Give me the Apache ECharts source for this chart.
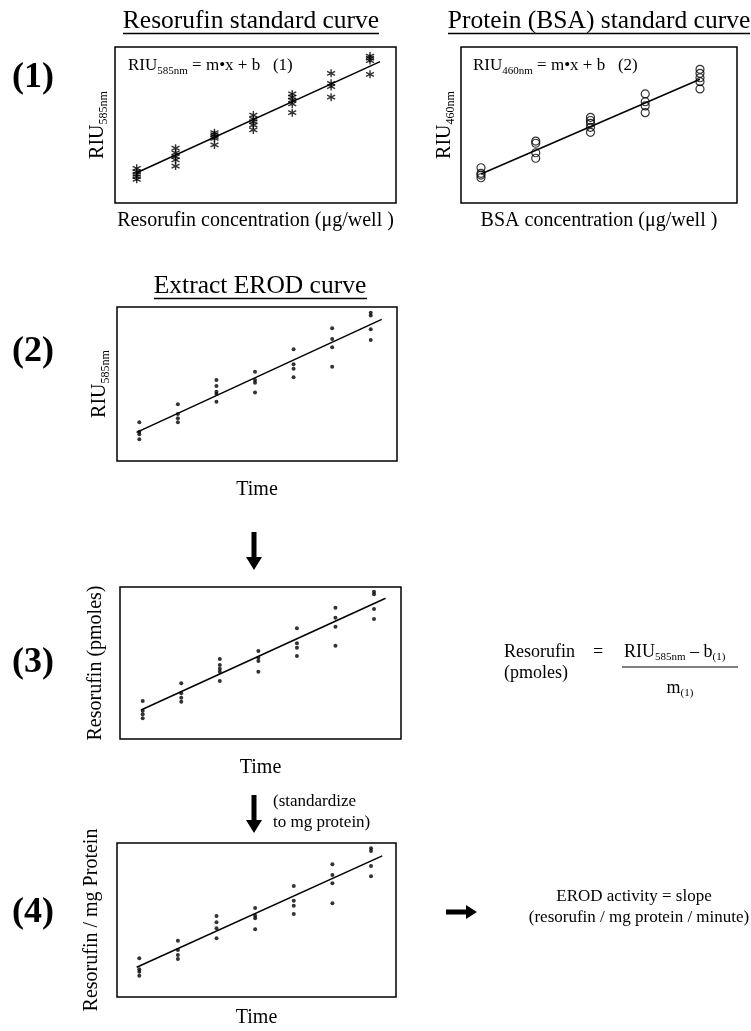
<!DOCTYPE html>
<html>
<head>
<meta charset="utf-8">
<script src="https://cdn.jsdelivr.net/npm/echarts@6/dist/echarts.min.js"></script>
<style>
  html, body { margin: 0; padding: 0; background: #fff; }
  #chart { width: 751px; height: 1031px; }
</style>
</head>
<body>
<div id="chart"></div>
<script>
// ---------------- DATA (arbitrary units 0-100) ----------------
// Panel (1) left: Resorufin standard curve (asterisks)
const resStdX = [1, 2, 3, 4, 5, 6, 7];
const resStdY = [
  [22.2, 20.1, 18.4, 16.9, 15.2],
  [35.1, 32.2, 29.7, 27.6, 23.7],
  [45.1, 43.9, 42.5, 41.5, 37.2],
  [56.4, 53.7, 52.1, 50.0, 46.8],
  [69.9, 67.9, 66.0, 63.5, 57.9],
  [83.1, 76.7, 74.6, 67.8],
  [94.2, 92.8, 91.3, 82.5]
];
const resStdFitX = [1, 7.26];
const resStdFitY = [19.4, 90.6];

// Panel (1) right: Protein (BSA) standard curve (open circles)
const bsaX = [1, 2, 3, 4, 5];
const bsaY = [
  [22.6, 19.0, 17.9, 16.2],
  [39.7, 38.3, 32.2, 28.7],
  [54.9, 52.9, 51.1, 48.5, 45.3],
  [69.9, 64.9, 62.2, 57.9],
  [85.7, 83.1, 80.3, 77.8, 73.1]
];
const bsaFitX = [1, 5];
const bsaFitY = [18.6, 79.3];

// Panel (2): Extract EROD curve, RIU585nm vs time
const timeX = [1, 2, 3, 4, 5, 6, 7];
const erodRiuY = [
  [25.1, 19.0, 17.3, 14.1],
  [36.8, 30.5, 27.7, 25.1],
  [52.6, 48.7, 45.0, 43.5, 38.5],
  [58.0, 52.6, 50.8, 44.4],
  [72.5, 62.8, 59.9, 54.4],
  [86.2, 79.2, 73.8, 61.2],
  [96.3, 94.4, 85.5, 78.6]
];
const erodRiuFitX = [0.93, 7.285];
const erodRiuFitY = [18.6, 92.0];

// Panel (3): Resorufin (pmoles) vs time
const pmolY = [
  [25.0, 18.6, 16.3, 13.6],
  [36.6, 30.1, 27.2, 24.5],
  [52.6, 48.7, 46.2, 44.3, 38.2],
  [57.9, 53.5, 51.3, 44.3],
  [72.8, 63.0, 60.1, 54.6],
  [86.4, 79.8, 73.9, 61.4],
  [96.9, 95.2, 85.5, 78.9]
];
const pmolFitX = [0.956, 7.30];
const pmolFitY = [19.1, 92.6];

// Panel (4): Resorufin / mg protein vs time
const perMgY = [
  [25.1, 18.0, 16.4, 13.8],
  [36.6, 30.5, 27.3, 24.7],
  [52.6, 48.5, 44.6, 38.1],
  [57.8, 52.8, 51.1, 44.0],
  [72.1, 62.5, 59.3, 53.9],
  [86.2, 79.2, 73.8, 60.8],
  [96.6, 94.8, 85.1, 78.4]
];
const perMgFitX = [0.933, 7.29];
const perMgFitY = [19.3, 91.6];

// ---------------- HELPERS ----------------
const FONT = '"Liberation Serif", "Times New Roman", serif';
function flatten(xs, ys) {
  const out = [];
  xs.forEach((x, i) => ys[i].forEach(y => out.push([x, y])));
  return out;
}
function pairs(xs, ys) { return xs.map((x, i) => [x, ys[i]]); }

const ASTERISK = 'path://M5,0L5,10M0.67,2.5L9.33,7.5M0.67,7.5L9.33,2.5';

const subRich = (size, sub) => ({
  a: { fontFamily: FONT, fontSize: size, color: '#000', lineHeight: size + 4 },
  s: { fontFamily: FONT, fontSize: sub, color: '#000', lineHeight: sub, verticalAlign: 'bottom' }
});

const panels = [
  { grid: { left: 115, top: 47, width: 281, height: 156 }, xr: [0.442, 7.669],
    xName: 'Resorufin concentration (\u03bcg/well )', xGap: 8,
    yName: '{a|RIU}{s|585nm}', yGap: 5,
    pts: flatten(resStdX, resStdY), fit: pairs(resStdFitX, resStdFitY), sym: 'asterisk' },
  { grid: { left: 461, top: 47, width: 276, height: 156 }, xr: [0.635, 5.676],
    xName: 'BSA concentration (\u03bcg/well )', xGap: 8,
    yName: '{a|RIU}{s|460nm}', yGap: 4,
    pts: flatten(bsaX, bsaY), fit: pairs(bsaFitX, bsaFitY), sym: 'circle' },
  { grid: { left: 117, top: 307, width: 280, height: 154 }, xr: [0.422, 7.681],
    xName: 'Time', xGap: 19,
    yName: '{a|RIU}{s|585nm}', yGap: 5,
    pts: flatten(timeX, erodRiuY), fit: pairs(erodRiuFitX, erodRiuFitY), sym: 'dot' },
  { grid: { left: 120, top: 587, width: 281, height: 152 }, xr: [0.411, 7.70],
    xName: 'Time', xGap: 19,
    yName: '{a|Resorufin (pmoles)}', yGap: 12,
    pts: flatten(timeX, pmolY), fit: pairs(pmolFitX, pmolFitY), sym: 'dot' },
  { grid: { left: 117, top: 843, width: 279, height: 154 }, xr: [0.423, 7.647],
    xName: 'Time', xGap: 11,
    yName: '{a|Resorufin / mg Protein}', yGap: 13,
    pts: flatten(timeX, perMgY), fit: pairs(perMgFitX, perMgFitY), sym: 'dot' }
];

const grids = [], xAxes = [], yAxes = [], series = [];
panels.forEach((p, i) => {
  grids.push(Object.assign({ show: true, borderColor: '#000', borderWidth: 1.5,
    backgroundColor: 'transparent', containLabel: false }, p.grid));
  xAxes.push({ type: 'value', gridIndex: i, min: p.xr[0], max: p.xr[1],
    axisLine: { show: false }, axisTick: { show: false }, axisLabel: { show: false },
    splitLine: { show: false },
    name: p.xName, nameLocation: 'middle', nameGap: p.xGap,
    nameTextStyle: { fontFamily: FONT, fontSize: 20, color: '#000' } });
  yAxes.push({ type: 'value', gridIndex: i, min: 0, max: 100,
    axisLine: { show: false }, axisTick: { show: false }, axisLabel: { show: false },
    splitLine: { show: false },
    name: p.yName, nameLocation: 'middle', nameGap: p.yGap,
    nameTextStyle: { fontFamily: FONT, fontSize: 20, color: '#000', rich: subRich(20, 12) } });
  let symbol, size, itemStyle;
  if (p.sym === 'asterisk') {
    symbol = ASTERISK; size = 8;
    itemStyle = { color: 'rgba(0,0,0,0)', borderColor: '#000', borderWidth: 1.4 };
  } else if (p.sym === 'circle') {
    symbol = 'circle'; size = 8;
    itemStyle = { color: 'rgba(0,0,0,0)', borderColor: '#000', borderWidth: 1.2 };
  } else {
    symbol = 'circle'; size = 4;
    itemStyle = { color: '#000' };
  }
  series.push({ type: 'scatter', xAxisIndex: i, yAxisIndex: i, data: p.pts,
    symbol: symbol, symbolSize: size, itemStyle: itemStyle, silent: true, z: 3 });
  series.push({ type: 'line', xAxisIndex: i, yAxisIndex: i, data: p.fit,
    showSymbol: false, symbol: 'none', lineStyle: { color: '#000', width: 1.5 }, silent: true, z: 2 });
});

// ---------------- ANNOTATIONS ----------------
function txt(text, x, y, size, opts) {
  return { type: 'text', x: x, y: y, silent: true, style: Object.assign({
    text: text, fontFamily: FONT, fontSize: size, fill: '#000',
    textAlign: 'left', textVerticalAlign: 'middle' }, opts || {}) };
}
function hline(x1, x2, y, w) {
  return { type: 'line', silent: true, shape: { x1: x1, y1: y, x2: x2, y2: y },
    style: { stroke: '#000', lineWidth: w || 1.3 } };
}
function downArrow(x, y1, y2) {
  return { type: 'polygon', silent: true, shape: { points: [
    [x - 2.5, y1], [x + 2.5, y1], [x + 2.5, y2 - 13], [x + 8, y2 - 13], [x, y2],
    [x - 8, y2 - 13], [x - 2.5, y2 - 13]] }, style: { fill: '#000' } };
}
function rightArrow(x1, x2, y) {
  return { type: 'polygon', silent: true, shape: { points: [
    [x1, y - 2.5], [x2 - 11, y - 2.5], [x2 - 11, y - 7], [x2, y], [x2 - 11, y + 7],
    [x2 - 11, y + 2.5], [x1, y + 2.5]] }, style: { fill: '#000' } };
}

const graphics = [
  // step numbers
  txt('(1)', 33, 78, 36, { fontWeight: 'bold', textAlign: 'center' }),
  txt('(2)', 33, 352, 36, { fontWeight: 'bold', textAlign: 'center' }),
  txt('(3)', 33, 663, 36, { fontWeight: 'bold', textAlign: 'center' }),
  txt('(4)', 33, 913, 36, { fontWeight: 'bold', textAlign: 'center' }),
  // titles
  txt('Resorufin standard curve', 251, 21, 25.5, { textAlign: 'center' }),
  hline(123, 379, 33.5),
  txt('Protein (BSA) standard curve', 599, 21, 25.5, { textAlign: 'center' }),
  hline(448, 750, 33.5),
  txt('Extract EROD curve', 260, 286, 25.5, { textAlign: 'center' }),
  hline(154, 367, 298.5),
  // equations inside standard curves
  txt('{a|RIU}{s|585nm}{a| = m\u2022x + b   (1)}', 128, 66, 17, { rich: subRich(17, 11) }),
  txt('{a|RIU}{s|460nm}{a| = m\u2022x + b   (2)}', 473, 66, 17, { rich: subRich(17, 11) }),
  // arrows
  downArrow(254, 532, 570),
  downArrow(254, 795, 833),
  txt('(standardize', 273, 802, 17),
  txt('to mg protein)', 273, 823, 17),
  // resorufin equation
  txt('Resorufin', 504, 652, 18),
  txt('(pmoles)', 504, 673, 18),
  txt('=', 598, 652, 18, { textAlign: 'center' }),
  txt('{a|RIU}{s|585nm}{a| \u2013 b}{s|(1)}', 624, 652, 18, { rich: subRich(18, 11) }),
  hline(622, 738, 667, 1.2),
  txt('{a|m}{s|(1)}', 680, 688, 18, { textAlign: 'center', rich: subRich(18, 11) }),
  // EROD activity
  rightArrow(446, 477, 912),
  txt('EROD activity = slope', 634, 897, 17, { textAlign: 'center' }),
  txt('(resorufin / mg protein / minute)', 639, 918, 17, { textAlign: 'center' })
];

const chart = echarts.init(document.getElementById('chart'), null, { renderer: 'canvas' });
chart.setOption({
  backgroundColor: '#fff',
  animation: false,
  grid: grids,
  xAxis: xAxes,
  yAxis: yAxes,
  series: series,
  graphic: graphics
});
</script>
</body>
</html>
